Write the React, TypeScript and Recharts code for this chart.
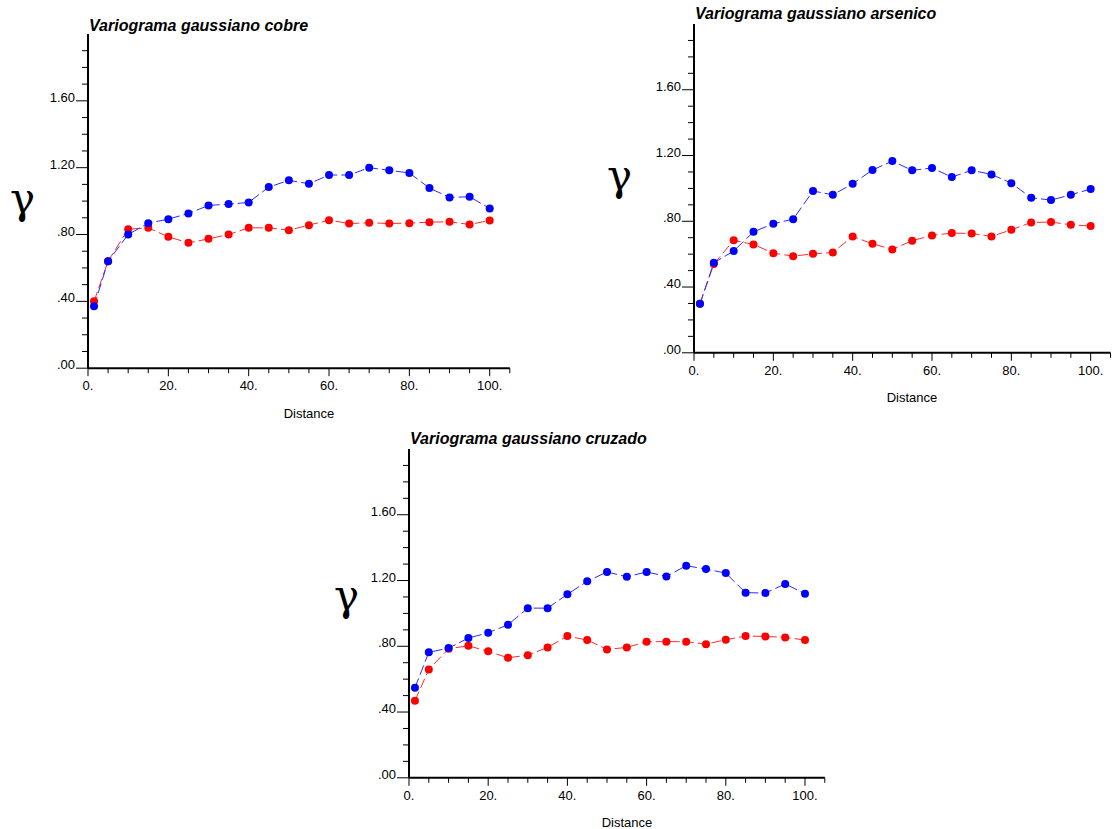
import React from "react";
import { LineChart, Line, XAxis, YAxis } from "recharts";

// distancias de los lags
const distances = [1.5, 5, 10, 15, 20, 25, 30, 35, 40, 45, 50, 55, 60, 65, 70, 75, 80, 85, 90, 95, 100];

const cobreAzul = [0.37, 0.64, 0.8, 0.868, 0.892, 0.926, 0.974, 0.982, 0.992, 1.084, 1.124, 1.104, 1.156, 1.156, 1.2, 1.184, 1.168, 1.078, 1.022, 1.026, 0.956];
const cobreRojo = [0.4, 0.64, 0.832, 0.84, 0.786, 0.75, 0.774, 0.8, 0.84, 0.84, 0.826, 0.856, 0.886, 0.866, 0.87, 0.866, 0.868, 0.874, 0.876, 0.86, 0.884];

const arsenicoAzul = [0.298, 0.548, 0.619, 0.736, 0.785, 0.813, 0.984, 0.961, 1.028, 1.112, 1.166, 1.11, 1.124, 1.069, 1.11, 1.085, 1.032, 0.943, 0.929, 0.961, 0.996];
const arsenicoRojo = [0.298, 0.54, 0.684, 0.659, 0.606, 0.588, 0.602, 0.61, 0.708, 0.663, 0.629, 0.682, 0.714, 0.728, 0.726, 0.708, 0.748, 0.793, 0.795, 0.779, 0.771];

const cruzadoAzul = [0.548, 0.763, 0.789, 0.85, 0.882, 0.931, 1.032, 1.032, 1.116, 1.195, 1.252, 1.223, 1.252, 1.225, 1.29, 1.27, 1.245, 1.126, 1.124, 1.179, 1.12];
const cruzadoRojo = [0.469, 0.659, 0.785, 0.803, 0.769, 0.73, 0.746, 0.793, 0.862, 0.838, 0.781, 0.793, 0.828, 0.828, 0.828, 0.813, 0.84, 0.862, 0.86, 0.854, 0.838];

const xTicks = [0, 5, 10, 15, 20, 25, 30, 35, 40, 45, 50, 55, 60, 65, 70, 75, 80, 85, 90, 95, 100, 105];
const xLabels: Record<number, string> = { 0: "0.", 20: "20.", 40: "40.", 60: "60.", 80: "80.", 100: "100." };
const yTicks = [0, 0.1, 0.2, 0.3, 0.4, 0.5, 0.6, 0.7, 0.8, 0.9, 1.0, 1.1, 1.2, 1.3, 1.4, 1.5, 1.6, 1.7, 1.8, 1.9];
const yLabels: Record<string, string> = { "0": ".00", "0.4": ".40", "0.8": ".80", "1.2": "1.20", "1.6": "1.60" };

const FONT = "'Liberation Sans', Arial, Helvetica, sans-serif";
const ML = 70;
const MT = 10;

type PanelProps = {
  title: string;
  azul: number[];
  rojo: number[];
  plotLeft: number;
  plotTop: number;
  plotW: number;
  plotH: number;
  titleX: number;
  titleY: number;
  gammaX: number;
  gammaY: number;
  distX: number;
  distY: number;
};

function Panel(p: PanelProps) {
  const rows = distances.map((d, i) => ({ d, azul: p.azul[i], rojo: p.rojo[i] }));
  const w = ML + p.plotW + 10;
  const h = MT + p.plotH + 50;
  const axisY = MT + p.plotH;

  const yTick = (props: any) => {
    const { y, payload } = props;
    const key = String(Math.round(payload.value * 10) / 10);
    const lab = yLabels[key];
    return (
      <g>
        <line x1={ML - (lab ? 12 : 6)} x2={ML} y1={y} y2={y} stroke="#000" strokeWidth={1} />
        {lab && (
          <text x={ML - 13} y={y + 1} textAnchor="end" fontSize={13} fontFamily={FONT} fill="#000">
            {lab}
          </text>
        )}
      </g>
    );
  };

  const xTick = (props: any) => {
    const { x, payload } = props;
    const lab = xLabels[payload.value];
    return (
      <g>
        <line x1={x} x2={x} y1={axisY} y2={axisY + (lab ? 8 : 5)} stroke="#000" strokeWidth={1} />
        {lab && (
          <text x={x} y={axisY + 22} textAnchor="middle" fontSize={13} fontFamily={FONT} fill="#000">
            {lab}
          </text>
        )}
      </g>
    );
  };

  return (
    <>
      <div style={{ position: "absolute", left: p.plotLeft - ML, top: p.plotTop - MT }}>
        <LineChart width={w} height={h} data={rows} margin={{ top: MT, right: 10, left: 0, bottom: 0 }}>
          <XAxis
            dataKey="d"
            type="number"
            domain={[0, 105]}
            ticks={xTicks}
            interval={0}
            height={50}
            tick={xTick}
            tickLine={false}
            axisLine={{ stroke: "#000", strokeWidth: 2 }}
            allowDataOverflow
          />
          <YAxis
            type="number"
            domain={[0, 2]}
            ticks={yTicks}
            interval={0}
            width={ML}
            tick={yTick}
            tickLine={false}
            axisLine={{ stroke: "#000", strokeWidth: 2 }}
            allowDataOverflow
          />
          <Line
            dataKey="rojo"
            type="linear"
            stroke="#ff2a2a"
            strokeWidth={1}
            strokeDasharray="10 4"
            dot={{ r: 4, fill: "#ff0000", stroke: "none" }}
            activeDot={false}
            isAnimationActive={false}
          />
          <Line
            dataKey="azul"
            type="linear"
            stroke="#2a2aff"
            strokeWidth={1}
            strokeDasharray="10 4"
            dot={{ r: 4, fill: "#0000ff", stroke: "none" }}
            activeDot={false}
            isAnimationActive={false}
          />
        </LineChart>
      </div>
      <svg style={{ position: "absolute", left: 0, top: 0, pointerEvents: "none" }} width={1119} height={829}>
        <text x={p.titleX} y={p.titleY} fontSize={16} fontWeight="bold" fontStyle="italic" fontFamily={FONT} fill="#000">
          {p.title}
        </text>
        <text x={p.gammaX} y={p.gammaY} fontSize={42} fontFamily="'DejaVu Serif', serif" fill="#000">
          γ
        </text>
        <text x={p.distX} y={p.distY} textAnchor="middle" fontSize={13} fontFamily={FONT} fill="#000">
          Distance
        </text>
      </svg>
    </>
  );
}

export default function App() {
  return (
    <div style={{ position: "absolute", left: 0, top: 0, width: 1119, height: 829, background: "#fff" }}>
      <Panel
        title="Variograma gaussiano cobre"
        azul={cobreAzul}
        rojo={cobreRojo}
        plotLeft={87.5}
        plotTop={33.5}
        plotW={421.8}
        plotH={334.2}
        titleX={89}
        titleY={31}
        gammaX={10}
        gammaY={213}
        distX={309}
        distY={418}
      />
      <Panel
        title="Variograma gaussiano arsenico"
        azul={arsenicoAzul}
        rojo={arsenicoRojo}
        plotLeft={693.5}
        plotTop={23.5}
        plotW={416.5}
        plotH={328.8}
        titleX={695}
        titleY={19}
        gammaX={607}
        gammaY={190}
        distX={912}
        distY={402}
      />
      <Panel
        title="Variograma gaussiano cruzado"
        azul={cruzadoAzul}
        rojo={cruzadoRojo}
        plotLeft={409}
        plotTop={448.5}
        plotW={415.8}
        plotH={328.8}
        titleX={410}
        titleY={444}
        gammaX={334}
        gammaY={610}
        distX={627}
        distY={827}
      />
    </div>
  );
}
